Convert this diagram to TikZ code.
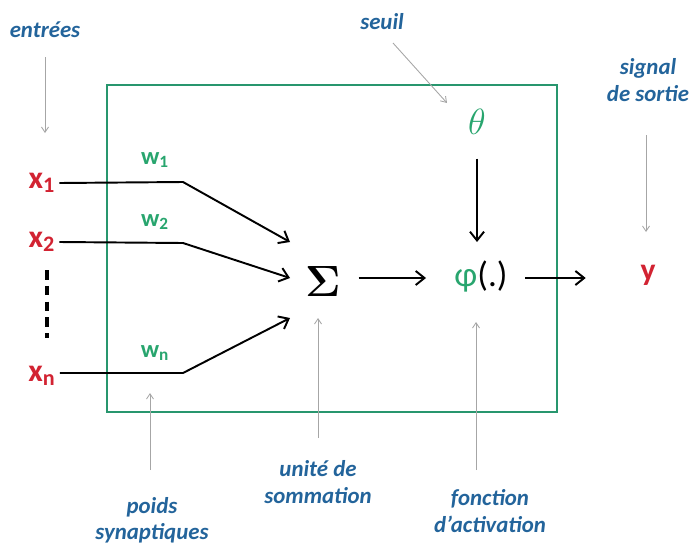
\documentclass[tikz,border=0pt]{standalone}
\usepackage{amsmath}
\usepackage[no-math]{fontspec}
\setmainfont{Carlito}
\usetikzlibrary{arrows.meta}

\definecolor{boxgreen}{RGB}{40,150,110}
\definecolor{wgreen}{RGB}{40,165,110}
\definecolor{labblue}{RGB}{35,100,155}
\definecolor{inred}{RGB}{210,35,50}

\tikzset{
  lab/.style={text=labblue,font=\fontsize{13}{15}\selectfont\bfseries\itshape,align=center,inner sep=1pt},
  xin/.style={text=inred,font=\fontsize{18}{20}\selectfont\bfseries,inner sep=1pt},
  wlab/.style={text=wgreen,font=\fontsize{14}{16}\selectfont\bfseries,inner sep=1pt},
  flow/.style={line width=1.1pt,-{Straight Barb[length=5pt,width=8pt]}},
  hint/.style={gray!70,line width=0.5pt,-{Straight Barb[length=3pt,width=4pt]}}
}

\begin{document}
\begin{tikzpicture}[x=0.02cm,y=-0.02cm]
\useasboundingbox (0,0) rectangle (693,548);
\draw[boxgreen,line width=1.4pt] (107,85) rectangle (557,412);
% entrees
\node[xin] (x1) at (42,183) {x\textsubscript{1}};
\node[xin] (x2) at (42,242) {x\textsubscript{2}};
\node[xin] (xn) at (42,376) {x\textsubscript{n}};
\coordinate (d1) at (47,270); \coordinate (d2) at (47,338);
\draw[line width=1.8pt,dash pattern=on 5.5pt off 3.5pt] (d1) -- (d2);
\node[wlab] (w1) at (155,160) {w\textsubscript{1}};
\node[wlab] (w2) at (155,222) {w\textsubscript{2}};
\node[wlab] (wn) at (155,353) {w\textsubscript{n}};
% somme et activation
\node[font=\fontsize{28}{30}\selectfont,inner sep=2pt] (sum) at (323,281) {$\mathbf{\Sigma}$};
\node[font=\fontsize{20}{22}\selectfont,inner sep=2pt] (phi) at (481,276) {\textcolor{wgreen}{φ}(.)};
\node[text=wgreen,font=\fontsize{22}{24}\selectfont,inner sep=2pt] (theta) at (477,122) {$\theta$};
\node[xin] (y) at (648,275) {y};
\coordinate (b1) at (183,182); \coordinate (b2) at (183,243); \coordinate (bn) at (183,373);
\coordinate (s1) at (290,242); \coordinate (s2) at (290,278); \coordinate (sn) at (290,318);
\draw[flow] (x1.east) ++(2,0) -- (b1) -- (s1);
\draw[flow] (x2.east) ++(2,0) -- (b2) -- (s2);
\draw[flow] (xn.east) ++(2,-3) -- (bn) -- (sn);
\draw[flow] (sum.east) ++(14,-3) -- ([xshift=-14]phi.west |- s2);
\draw[flow] (theta.south) ++(0,20) -- (477,242);
\draw[flow] (phi.east) ++(14,2) -- ([xshift=-30]y.west |- s2);
% etiquettes
\node[lab] (entrees) at (45,30) {entrées};
\node[lab] (seuil) at (382,22) {seuil};
\node[lab] (sortie) at (648,80) {signal\\de sortie};
\node[lab] (poids) at (152,520) {poids\\synaptiques};
\node[lab] (unite) at (318,482) {unité de\\sommation};
\node[lab] (fonct) at (490,511) {fonction\\d'activation};
\coordinate (t1) at (45,133); \coordinate (t2) at (447,103); \coordinate (t3) at (646,232);
\coordinate (t4) at (150,393); \coordinate (t5) at (318,318); \coordinate (t6) at (476,322);
\draw[hint] (45,57) -- (t1);
\draw[hint] (393,43) -- (t2);
\draw[hint] (646,135) -- (t3);
\draw[hint] (150,470) -- (t4);
\draw[hint] (318,438) -- (t5);
\draw[hint] (476,470) -- (t6);
\end{tikzpicture}
\end{document}
